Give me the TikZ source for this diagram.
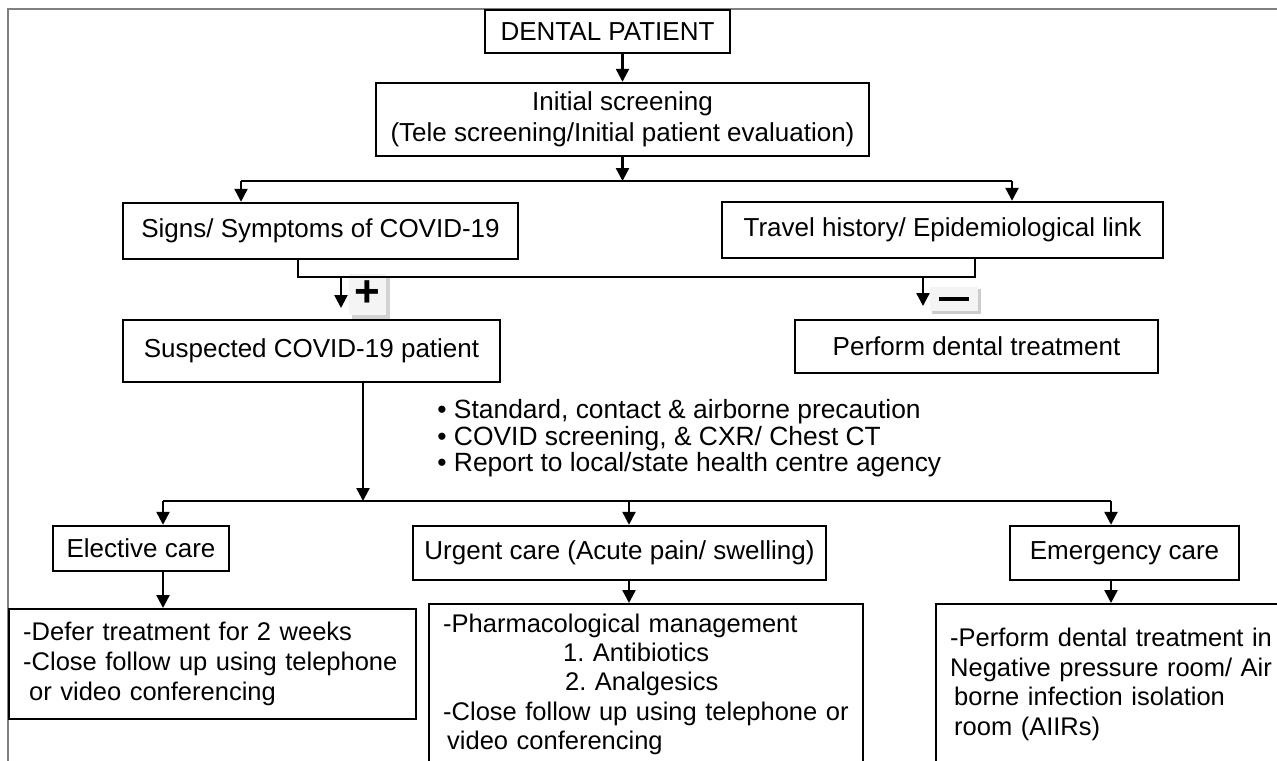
\documentclass[tikz,border=0pt]{standalone}
\usepackage{fontspec}
\setmainfont{Liberation Sans}
\usetikzlibrary{arrows.meta,calc,positioning}
\newdimen\pxu
\pxu=0.5pt
\frenchspacing

\begin{document}
\begin{tikzpicture}[x=0.5pt,y=-0.5pt,
  font=\fontsize{13}{15}\selectfont,
  box/.style={draw,line width=1.2pt,inner sep=0pt,align=center},
  textbox/.style={draw,line width=1.2pt,anchor=north west,align=left,inner xsep=7pt,inner ysep=0pt},
  arr/.style={line width=1.2pt,-{Triangle[width=6.5pt,length=6.5pt]}},
  link/.style={line width=1.2pt},
  signbox/.style={fill=gray!9,inner sep=0pt}]
  \useasboundingbox (0,0) rectangle (1277,760);
  \clip (0,0) rectangle (1277,760);
  \draw[gray,line width=0.6pt] (8,800) -- (8,9) -- (1300,9);

  % top of the chart
  \node[box,minimum width=245\pxu,minimum height=43\pxu] (dental) at (607.5,31.5) {DENTAL PATIENT};
  \node[box,minimum width=493\pxu,minimum height=73\pxu,font=\fontsize{13}{15.5}\selectfont] (init) at (622.5,119.5)
    {Initial screening\\(Tele screening/Initial patient evaluation)};
  \node[box,minimum width=395\pxu,minimum height=56\pxu] (signs) at (320.5,231) {Signs/ Symptoms of COVID-19};
  \node[box,minimum width=441\pxu,minimum height=56\pxu] (travel) at (942.5,230) {Travel history/ Epidemiological link};

  % plus / minus
  \fill[gray!35] (352,278) rectangle (390,320);
  \node[signbox,minimum width=37\pxu,minimum height=41\pxu,font=\fontsize{22}{22}\selectfont\bfseries] (plus) at (367,294) {+};
  \fill[gray!40] (932,289) rectangle (981,314);
  \node[signbox,minimum width=48\pxu,minimum height=24\pxu] (minus) at (954,299) {\rule{15pt}{2.2pt}};

  \node[box,minimum width=377\pxu,minimum height=62\pxu] (suspect) at (311.5,351) {Suspected COVID-19 patient};
  \node[box,minimum width=363\pxu,minimum height=53\pxu] (perform) at (976.5,346.5) {Perform dental treatment};

  \node[anchor=north west,align=left,inner sep=0pt,font=\fontsize{13.2}{13.3}\selectfont] (steps) at (437,399)
    {• Standard, contact \& airborne precaution\\• COVID screening, \& CXR/ Chest CT\\• Report to local/state health centre agency};

  % care levels
  \node[box,minimum width=176\pxu,minimum height=45\pxu] (elective) at (141,548.5) {Elective care};
  \node[box,minimum width=413\pxu,minimum height=54\pxu] (urgent) at (619.5,553) {Urgent care (Acute pain/ swelling)};
  \node[box,minimum width=229\pxu,minimum height=54\pxu] (emergency) at (1124.5,553) {Emergency care};

  \node[textbox,text width=379\pxu,minimum height=110\pxu,font=\fontsize{12.75}{15}\selectfont] (defer) at (8,608)
    {-Defer treatment for 2 weeks\\-Close follow up using telephone\\\hspace*{3pt}or video conferencing};
  \node[textbox,text width=406\pxu,minimum height=160\pxu,font=\fontsize{12.75}{14.6}\selectfont] (pharm) at (428,603)
    {-Pharmacological management\\\hspace*{60pt}1. Antibiotics\\\hspace*{61pt}2. Analgesics\\-Close follow up using telephone or\\\hspace*{2pt}video conferencing};
  \node[textbox,text width=327\pxu,minimum height=160\pxu,font=\fontsize{12.75}{14.8}\selectfont] (isolate) at (935,603)
    {-Perform dental treatment in\\Negative pressure room/ Air\\\hspace*{2pt}borne infection isolation\\\hspace*{2pt}room (AIIRs)};

  % connectors
  \coordinate (sL) at (241,181);
  \coordinate (sR) at (1012,181);
  \draw[arr] (dental.south -| init.north) -- (init.north);
  \draw[arr] (init.south) -- (init.south |- sL);
  \draw[link] (sL) -- (sR);
  \draw[arr] (sL) -- (sL |- signs.north);
  \draw[arr] (sR) -- (sR |- travel.north);

  \coordinate (jL) at (298,277);
  \coordinate (jR) at (975,277);
  \coordinate (pos) at (341,308);
  \coordinate (neg) at (923,306);
  \draw[link] (signs.south -| jL) -- (jL) -- (jR) -- (travel.south -| jR);
  \draw[arr] (pos |- jL) -- (pos);
  \draw[arr] (neg |- jR) -- (neg);

  \coordinate (cL) at (163,501);
  \coordinate (cM) at (363,501);
  \coordinate (cU) at (629,501);
  \coordinate (cR) at (1111,501);
  \draw[arr] (suspect.south -| cM) -- (cM);
  \draw[link] (cL) -- (cR);
  \draw[arr] (cL) -- (cL |- elective.north);
  \draw[arr] (cU) -- (cU |- urgent.north);
  \draw[arr] (cR) -- (cR |- emergency.north);
  \draw[arr] (elective.south -| cL) -- (defer.north -| cL);
  \draw[arr] (urgent.south -| cU) -- (pharm.north -| cU);
  \draw[arr] (emergency.south -| cR) -- (isolate.north -| cR);
\end{tikzpicture}
\end{document}
